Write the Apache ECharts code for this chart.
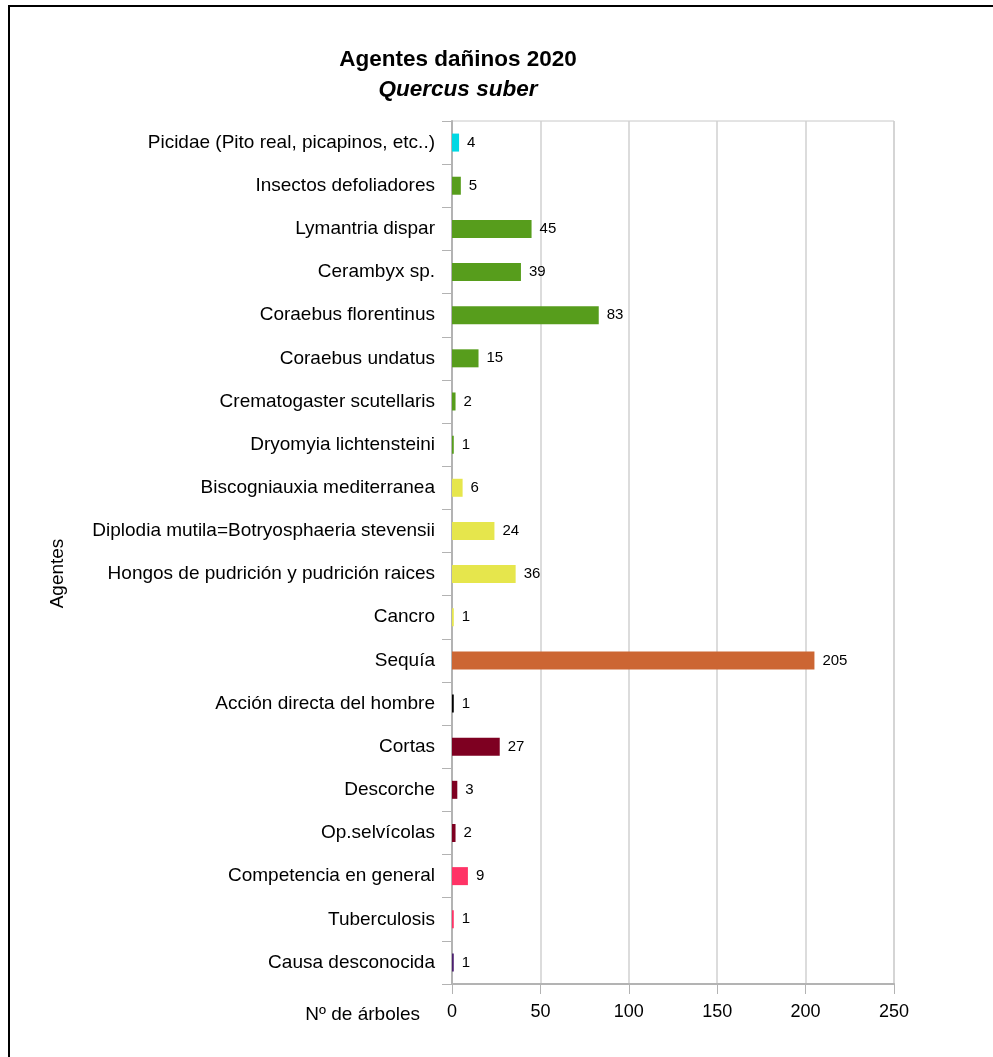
<!DOCTYPE html>
<html><head><meta charset="utf-8">
<script src="https://cdn.jsdelivr.net/npm/echarts@6/dist/echarts.min.js"></script>
<style>html,body{margin:0;padding:0;background:#fff}#c{width:993px;height:1057px}</style>
</head><body><div id="c"></div>
<script>
const categories = ['Picidae (Pito real, picapinos, etc..)','Insectos defoliadores','Lymantria dispar','Cerambyx sp.','Coraebus florentinus','Coraebus undatus','Crematogaster scutellaris','Dryomyia lichtensteini','Biscogniauxia mediterranea','Diplodia mutila=Botryosphaeria stevensii','Hongos de pudrición y pudrición raices','Cancro','Sequía','Acción directa del hombre','Cortas','Descorche','Op.selvícolas','Competencia en general','Tuberculosis','Causa desconocida'];
const values = [4,5,45,39,83,15,2,1,6,24,36,1,205,1,27,3,2,9,1,1];
const colors = ['#00d8e3','#579d1c','#579d1c','#579d1c','#579d1c','#579d1c','#579d1c','#579d1c','#e6e64c','#e6e64c','#e6e64c','#e6e64c','#cc6633','#000000','#7e0021','#7e0021','#7e0021','#ff3366','#ff3366','#4b1f6f'];
const xTicks = [0,50,100,150,200,250];

const chart = echarts.init(document.getElementById('c'), null, {renderer:'canvas'});
const FONT = '"Liberation Sans", Arial, sans-serif';
chart.setOption({
  animation:false,
  textStyle:{fontFamily:FONT},
  title:[
    {text:'Agentes dañinos 2020', left:453, top:43, textAlign:'center', textStyle:{fontFamily:FONT,fontSize:22.5,fontWeight:'bold',color:'#000'}},
    {text:'Quercus suber', left:453, top:73, textAlign:'center', textStyle:{fontFamily:FONT,fontSize:22.5,fontWeight:'bold',fontStyle:'italic',color:'#000'}}
  ],
  graphic:[{type:'rect', shape:{x:9,y:6,width:1100,height:1200}, style:{fill:'none',stroke:'#000',lineWidth:2}}],
  grid:{left:452,right:99,top:121,bottom:73,show:true,borderColor:'#c8c8c8',borderWidth:1},
  xAxis:{type:'value',min:0,max:250,interval:50,
    name:'Nº de árboles',nameLocation:'start',nameGap:32,
    nameTextStyle:{fontFamily:FONT,fontSize:19,color:'#000',align:'right',verticalAlign:'top',padding:[21,0,0,0]},
    axisLine:{show:true,lineStyle:{color:'#b3b3b3',width:2}},
    axisTick:{show:true,length:10,lineStyle:{color:'#b3b3b3',width:1}},
    axisLabel:{fontFamily:FONT,fontSize:18,color:'#000',margin:19,formatter:v=>xTicks.includes(v)?String(v):''},
    splitLine:{show:true,lineStyle:{color:'#d0d0d0',width:1.5}}},
  yAxis:{type:'category',data:categories,inverse:true,
    name:'Agentes',nameLocation:'middle',nameGap:385,nameRotate:90,
    nameTextStyle:{fontFamily:FONT,fontSize:19,color:'#000',padding:[0,42,0,0]},
    axisLine:{show:true,lineStyle:{color:'#b3b3b3',width:2}},
    axisTick:{show:true,length:10,lineStyle:{color:'#b3b3b3',width:1}},
    axisLabel:{fontFamily:FONT,fontSize:19,color:'#000',margin:17,padding:[3,0,0,0]},
    splitLine:{show:false}},
  series:[{type:'bar',barWidth:18,
    data:values.map((v,i)=>({value:v,itemStyle:{color:colors[i]}})),
    label:{show:true,position:'right',distance:8,fontFamily:FONT,fontSize:15,color:'#000'}}]
});
</script></body></html>
